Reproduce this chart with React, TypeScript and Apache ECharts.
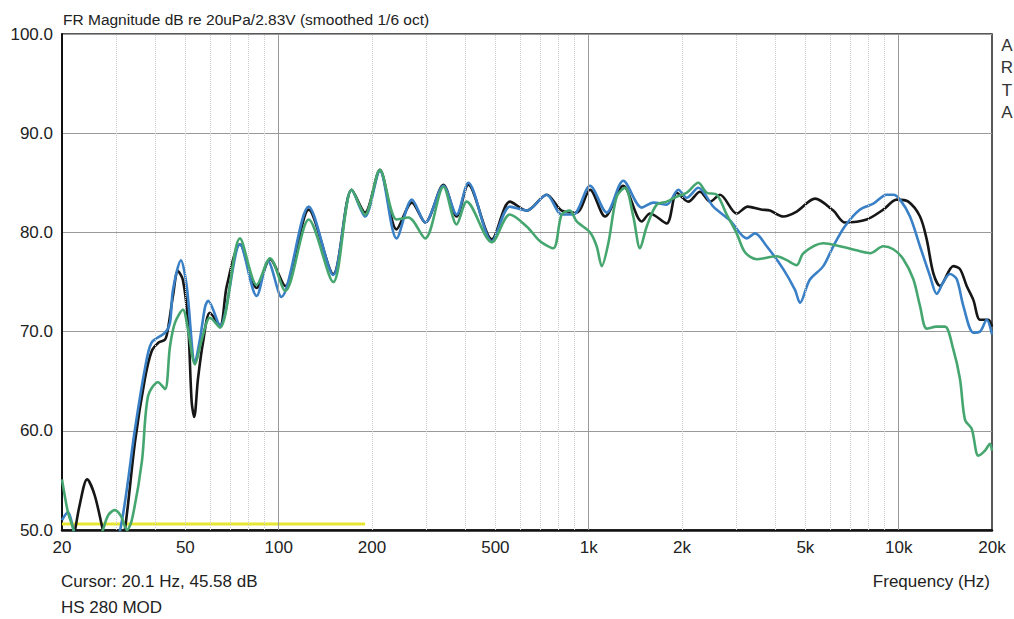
import React, { useEffect, useRef } from "react";
import * as echarts from "echarts";

// ---------- data (frequency Hz, level dB) ----------
const blackCurve: [number, number][] = [
  [20, 45.6], [21.7, 49.0], [22.8, 52.5], [24.1, 55.1], [25.5, 53.5], [27.1, 50.0], [28.5, 47.5], [30.5, 47.5],
  [31.9, 50.0], [34.4, 58.9], [37.0, 65.2], [38.9, 68.0], [41.0, 68.9], [43.0, 69.2], [43.9, 70.2], [45.6, 73.6],
  [47.3, 76.1], [49.1, 75.2], [51.0, 70.9], [52.4, 62.9], [53.4, 61.4], [54.9, 65.2], [57.0, 68.9], [60.0, 71.9],
  [64.7, 70.6], [68.0, 74.6], [75.0, 78.8], [84.9, 74.4], [93.8, 77.3], [105, 74.6], [125, 82.3], [150, 75.8],
  [172, 84.3], [190, 82.0], [212, 86.3], [240, 80.3], [269, 83.0], [297, 81.0], [340, 84.8], [375, 81.6],
  [409, 84.8], [487, 79.3], [557, 83.1], [631, 82.2], [732, 83.8], [818, 82.2], [915, 82.0], [1010, 84.3],
  [1129, 81.6], [1293, 84.7], [1483, 81.1], [1577, 81.9], [1785, 80.9], [1923, 84.0], [2096, 83.1], [2286, 84.1],
  [2462, 83.1], [2653, 83.8], [3002, 81.9], [3260, 82.6], [3600, 82.3], [3844, 82.2], [4244, 81.6], [4688, 82.1],
  [5371, 83.4], [6152, 82.2], [6713, 81.0], [7885, 81.3], [8922, 82.3], [9854, 83.3], [10741, 83.1], [11715, 81.6],
  [12314, 79.3], [12932, 75.9], [13593, 74.6], [15006, 76.6], [15770, 76.3], [16574, 74.6], [17410, 73.2],
  [18294, 71.2], [19460, 71.2], [20000, 70.5],
];

const blueCurve: [number, number][] = [
  [20, 51.0], [20.9, 51.8], [21.8, 50.0], [23, 47.5], [28, 47.0], [30.8, 50.0], [34.4, 60.2], [37.0, 66.2],
  [38.9, 68.9], [43.0, 69.9], [44.6, 70.9], [45.6, 74.2], [48.4, 77.2], [50.5, 74.6], [53.7, 66.9], [55.7, 69.2],
  [57.9, 72.5], [59.2, 73.1], [64.7, 70.6], [75.0, 78.8], [84.9, 73.6], [92.4, 77.1], [102, 73.5], [125, 82.6],
  [150, 75.7], [172, 84.3], [190, 81.6], [212, 86.2], [240, 79.4], [269, 83.3], [297, 81.0], [340, 84.7],
  [375, 81.8], [409, 85.0], [487, 79.1], [557, 82.6], [631, 82.2], [732, 83.8], [818, 81.8], [892, 81.8],
  [1010, 84.7], [1143, 82.0], [1293, 85.2], [1483, 82.5], [1616, 83.0], [1785, 82.8], [1946, 84.3], [2071, 83.5],
  [2257, 84.5], [2524, 82.6], [2858, 81.2], [3234, 79.4], [3440, 79.9], [3752, 78.6], [4244, 76.3], [4630, 74.2],
  [4805, 72.9], [5160, 75.2], [5711, 76.6], [6152, 78.6], [6700, 80.6], [7503, 82.3], [8284, 82.9], [9149, 83.8],
  [9607, 83.8], [10099, 83.3], [10877, 81.6], [11715, 78.6], [12619, 75.6], [13263, 73.8], [13932, 75.0],
  [14636, 75.8], [15386, 75.3], [16160, 72.6], [17410, 69.9], [18294, 70.0], [19228, 71.2], [20000, 69.7],
];

const greenCurve: [number, number][] = [
  [20, 55.1], [20.9, 51.8], [21.7, 50.2], [22.5, 48.0], [25.5, 47.5], [27.1, 50.0], [28.2, 51.5], [29.6, 52.0],
  [31.0, 51.4], [32.4, 50.0], [33.6, 51.0], [36.2, 56.9], [37.9, 63.5], [40.8, 64.9], [43.0, 64.2], [44.6, 68.5],
  [46.3, 70.9], [49.1, 72.2], [51.0, 70.2], [53.7, 66.7], [56.5, 69.2], [60.0, 71.4], [64.7, 70.4], [75.0, 79.4],
  [84.9, 74.7], [93.8, 77.4], [105, 74.1], [125, 81.3], [150, 75.0], [172, 84.3], [190, 81.8], [212, 86.3],
  [240, 81.3], [262, 81.5], [297, 79.4], [340, 84.6], [375, 80.8], [404, 83.1], [487, 79.0], [557, 81.8],
  [631, 80.6], [697, 79.1], [769, 78.4], [818, 81.8], [870, 82.2], [915, 81.1], [1010, 80.0], [1061, 78.6],
  [1102, 76.6], [1157, 78.9], [1231, 83.6], [1310, 84.5], [1393, 81.6], [1464, 78.4], [1539, 80.6], [1657, 82.8],
  [1785, 83.1], [1923, 83.6], [2071, 84.0], [2257, 85.0], [2403, 84.0], [2588, 83.8], [2788, 81.8], [3002, 79.9],
  [3193, 78.0], [3484, 77.3], [4043, 77.6], [4353, 77.2], [4688, 76.7], [4925, 77.9], [5711, 78.9], [6468, 78.6],
  [7503, 78.1], [8084, 77.9], [8922, 78.6], [9607, 78.3], [10352, 77.3], [11145, 75.3], [11715, 72.6],
  [12314, 70.3], [13263, 70.5], [14107, 70.5], [15006, 68.2], [15770, 65.2], [16366, 61.1], [17200, 60.2],
  [18066, 57.5], [18987, 58.0], [19704, 58.7], [20000, 58.0],
];

const yellowLine: [number, number][] = [[20, 50.6], [190, 50.6]];

// ---------- axis ticks ----------
const xLabelValues = [20, 50, 100, 200, 500, 1000, 2000, 5000, 10000, 20000];
const xLabelTexts = ["20", "50", "100", "200", "500", "1k", "2k", "5k", "10k", "20k"];
const xMajorGrid = [100, 1000, 10000];
const xMinorGrid = [30, 40, 50, 60, 70, 80, 90, 200, 300, 400, 500, 600, 700, 800, 900,
  2000, 3000, 4000, 5000, 6000, 7000, 8000, 9000];
const yMin = 50;
const yMax = 100;
const yStep = 10;

const titleText = "FR Magnitude dB re 20uPa/2.83V (smoothed 1/6 oct)";
const cursorText = "Cursor: 20.1 Hz, 45.58 dB";
const nameText = "HS 280 MOD";
const xAxisName = "Frequency (Hz)";
const brandLetters = ["A", "R", "T", "A"];

const FONT = "'Liberation Sans', Arial, sans-serif";

export default function App() {
  const ref = useRef<HTMLDivElement>(null);

  useEffect(() => {
    if (!ref.current) return;
    const chart = echarts.init(ref.current, null, { renderer: "svg" });

    const gridLines: any[] = [];
    xMinorGrid.forEach((f) => {
      gridLines.push({
        xAxis: f,
        lineStyle: { color: "#cccccc", type: "dotted", width: 1 },
        label: { show: false },
      });
    });
    xMajorGrid.forEach((f) => {
      gridLines.push({
        xAxis: f,
        lineStyle: { color: "#9a9a9a", type: "solid", width: 1 },
        label: { show: false },
      });
    });
    xLabelValues.forEach((f, i) => {
      gridLines.push({
        xAxis: f,
        lineStyle: { color: "rgba(0,0,0,0)", width: 0.01 },
        label: {
          show: true,
          position: "start",
          formatter: xLabelTexts[i],
          distance: 9,
          fontSize: 17,
          color: "#222",
          opacity: 1,
          fontFamily: FONT,
        },
      });
    });

    const graphics: any[] = [
      { type: "text", x: 63, y: 19, style: { text: titleText, font: `15.5px ${FONT}`, fill: "#222", verticalAlign: "middle", align: "left" } },
      { type: "text", x: 61, y: 581, style: { text: cursorText, font: `17px ${FONT}`, fill: "#222", verticalAlign: "middle", align: "left" } },
      { type: "text", x: 61, y: 607, style: { text: nameText, font: `17px ${FONT}`, fill: "#222", verticalAlign: "middle", align: "left" } },
      { type: "text", x: 990, y: 581, style: { text: xAxisName, font: `17px ${FONT}`, fill: "#222", verticalAlign: "middle", align: "right" } },
    ];
    brandLetters.forEach((ch, i) => {
      graphics.push({
        type: "text", x: 1007, y: 45 + i * 22.5,
        style: { text: ch, font: `17px ${FONT}`, fill: "#333", verticalAlign: "middle", align: "center" },
      });
    });

    const curveSeries = (name: string, data: [number, number][], color: string, z: number) => ({
      name,
      type: "line",
      data,
      showSymbol: false,
      symbol: "none",
      smooth: 0.3,
      clip: true,
      z,
      lineStyle: { color, width: 2.6 },
    });

    chart.setOption({
      animation: false,
      backgroundColor: "#ffffff",
      grid: { left: 62, right: 22, top: 34, bottom: 89, show: true, borderColor: "#222", borderWidth: 1.5, backgroundColor: "transparent" },
      xAxis: {
        type: "log",
        logBase: 10,
        min: 20,
        max: 20000,
        axisLabel: { show: false },
        axisTick: { show: false },
        splitLine: { show: false },
        minorSplitLine: { show: false },
        axisLine: { show: true, onZero: false, lineStyle: { color: "#111", width: 2.5 } },
      },
      yAxis: {
        type: "value",
        min: yMin,
        max: yMax,
        interval: yStep,
        axisLabel: { formatter: (v: number) => v.toFixed(1), fontSize: 17, color: "#222", margin: 9, fontFamily: FONT },
        axisTick: { show: false },
        splitLine: { lineStyle: { color: "#9a9a9a", width: 1 } },
        axisLine: { show: true, lineStyle: { color: "#111", width: 2 } },
      },
      graphic: graphics,
      series: [
        {
          name: "floor",
          type: "line",
          data: yellowLine,
          showSymbol: false,
          symbol: "none",
          z: 1,
          lineStyle: { color: "#e6e633", width: 3 },
          markLine: {
            silent: true,
            symbol: ["none", "none"],
            animation: false,
            data: gridLines,
          },
        },
        curveSeries("black", blackCurve, "#161616", 3),
        curveSeries("blue", blueCurve, "#3a80c6", 4),
        curveSeries("green", greenCurve, "#46a66f", 5),
      ],
    });

    return () => chart.dispose();
  }, []);

  return <div ref={ref} style={{ position: "absolute", left: 0, top: 0, width: 1014, height: 619 }} />;
}
